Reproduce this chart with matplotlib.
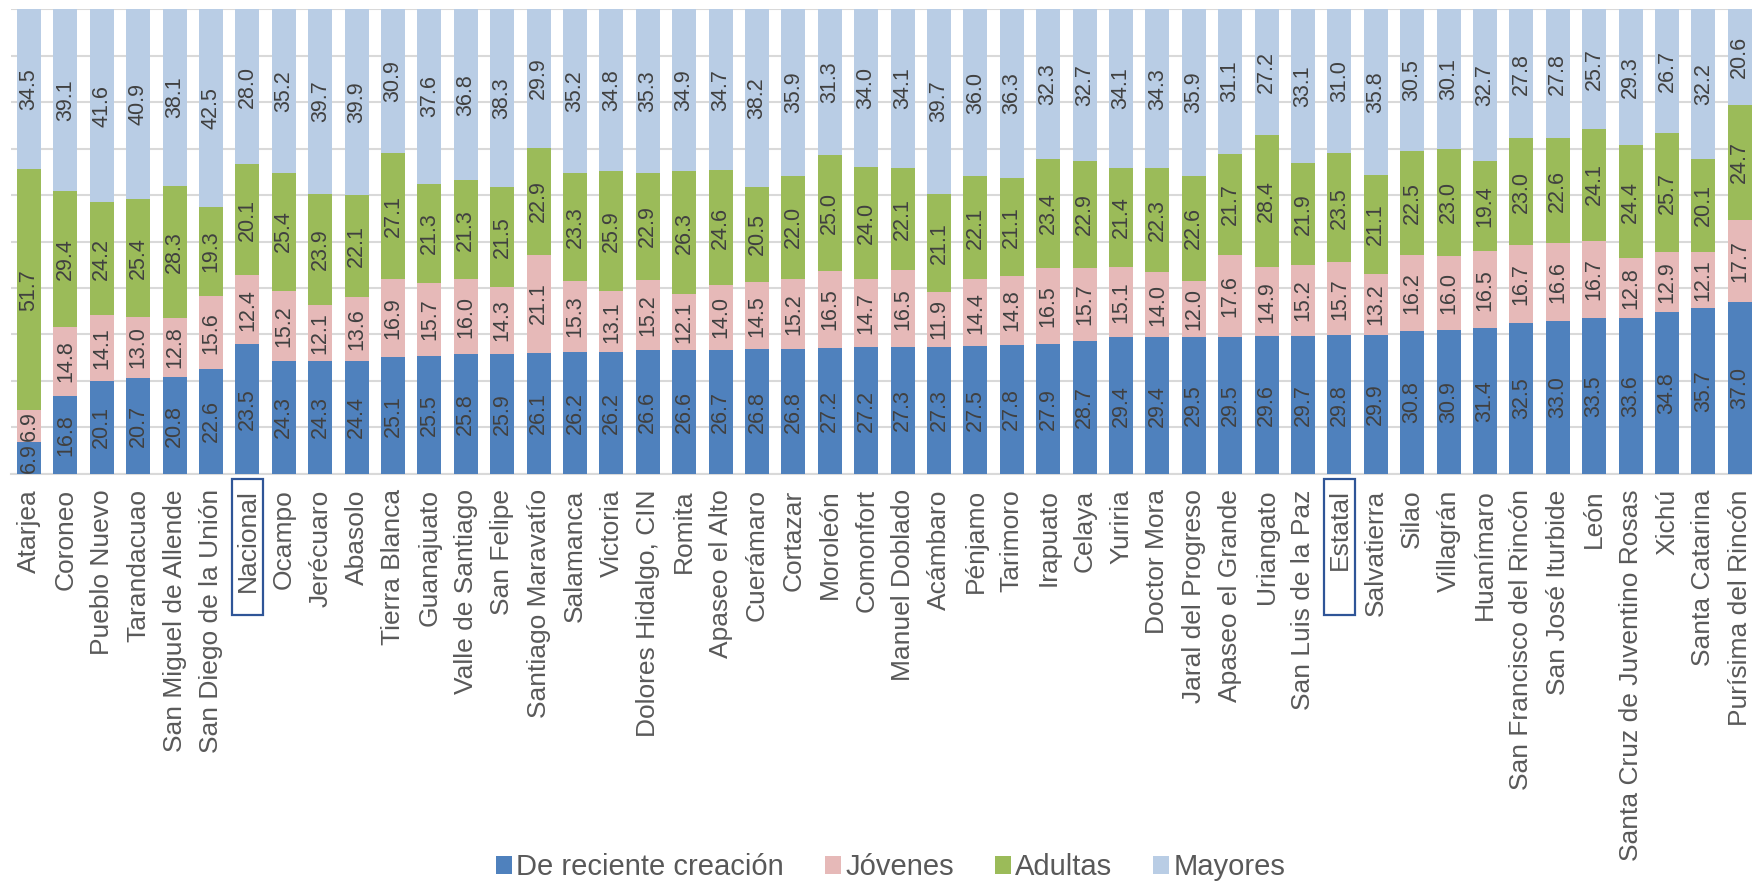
import matplotlib
matplotlib.use("Agg")
import matplotlib.pyplot as plt
import matplotlib.transforms as mtransforms
from matplotlib.patches import Rectangle
import numpy as np

plt.rcParams['font.family'] = ['Liberation Sans', 'DejaVu Sans']

# Datos
municipios = ["Atarjea", "Coroneo", "Pueblo Nuevo", "Tarandacuao", "San Miguel de Allende",
              "San Diego de la Unión", "Nacional", "Ocampo", "Jerécuaro", "Abasolo",
              "Tierra Blanca", "Guanajuato", "Valle de Santiago", "San Felipe",
              "Santiago Maravatío", "Salamanca", "Victoria", "Dolores Hidalgo, CIN", "Romita",
              "Apaseo el Alto", "Cuerámaro", "Cortazar", "Moroleón", "Comonfort",
              "Manuel Doblado", "Acámbaro", "Pénjamo", "Tarimoro", "Irapuato", "Celaya",
              "Yuriria", "Doctor Mora", "Jaral del Progreso", "Apaseo el Grande", "Uriangato",
              "San Luis de la Paz", "Estatal", "Salvatierra", "Silao", "Villagrán", "Huanímaro",
              "San Francisco del Rincón", "San José Iturbide", "León",
              "Santa Cruz de Juventino Rosas", "Xichú", "Santa Catarina", "Purísima del Rincón"]

reciente = [6.9, 16.8, 20.1, 20.7, 20.8, 22.6, 23.5, 24.3, 24.3, 24.4, 25.1, 25.5, 25.8, 25.9,
            26.1, 26.2, 26.2, 26.6, 26.6, 26.7, 26.8, 26.8, 27.2, 27.2, 27.3, 27.3, 27.5, 27.8,
            27.9, 28.7, 29.4, 29.4, 29.5, 29.5, 29.6, 29.7, 29.8, 29.9, 30.8, 30.9, 31.4, 32.5,
            33.0, 33.5, 33.6, 34.8, 35.7, 37.0]
jovenes = [6.9, 14.8, 14.1, 13.0, 12.8, 15.6, 12.4, 15.2, 12.1, 13.6, 16.9, 15.7, 16.0, 14.3,
           21.1, 15.3, 13.1, 15.2, 12.1, 14.0, 14.5, 15.2, 16.5, 14.7, 16.5, 11.9, 14.4, 14.8,
           16.5, 15.7, 15.1, 14.0, 12.0, 17.6, 14.9, 15.2, 15.7, 13.2, 16.2, 16.0, 16.5, 16.7,
           16.6, 16.7, 12.8, 12.9, 12.1, 17.7]
adultas = [51.7, 29.4, 24.2, 25.4, 28.3, 19.3, 20.1, 25.4, 23.9, 22.1, 27.1, 21.3, 21.3, 21.5,
           22.9, 23.3, 25.9, 22.9, 26.3, 24.6, 20.5, 22.0, 25.0, 24.0, 22.1, 21.1, 22.1, 21.1,
           23.4, 22.9, 21.4, 22.3, 22.6, 21.7, 28.4, 21.9, 23.5, 21.1, 22.5, 23.0, 19.4, 23.0,
           22.6, 24.1, 24.4, 25.7, 20.1, 24.7]
mayores = [34.5, 39.1, 41.6, 40.9, 38.1, 42.5, 28.0, 35.2, 39.7, 39.9, 30.9, 37.6, 36.8, 38.3,
           29.9, 35.2, 34.8, 35.3, 34.9, 34.7, 38.2, 35.9, 31.3, 34.0, 34.1, 39.7, 36.0, 36.3,
           32.3, 32.7, 34.1, 34.3, 35.9, 31.1, 27.2, 33.1, 31.0, 35.8, 30.5, 30.1, 32.7, 27.8,
           27.8, 25.7, 29.3, 26.7, 32.2, 20.6]

series = ["De reciente creación", "Jóvenes", "Adultas", "Mayores"]
colores = ["#4F81BD", "#E6B9B8", "#9BBB59", "#B9CDE5"]
resaltados = ["Nacional", "Estatal"]

valores = np.array([reciente, jovenes, adultas, mayores])
# Grafica 100% apilada: normalizar cada columna
porcentajes = valores / valores.sum(axis=0) * 100

fig = plt.figure(figsize=(17.52, 8.83), dpi=100)
ax = fig.add_axes([0.0062, 0.4632, 0.9972, 0.5266])

x = np.arange(len(municipios))
base = np.zeros(len(municipios))
for nombre, color, alto, etiquetas in zip(series, colores, porcentajes, valores):
    ax.bar(x, alto, bottom=base, width=0.66, color=color, label=nombre, zorder=3)
    for xi, b, h, v in zip(x, base, alto, etiquetas):
        ax.text(xi, b + h / 2, f"{v:.1f}", rotation=90, ha="center", va="center",
                fontsize=15.5, color="#404040", zorder=4)
    base = base + alto

ax.set_xlim(-0.5, len(municipios) - 0.5)
ax.set_ylim(0, 100)
ax.set_yticks(np.arange(0, 101, 10))
ax.yaxis.grid(True, color="#D9D9D9", linewidth=1.5, zorder=0)
ax.tick_params(axis="y", left=False, labelleft=False)
ax.set_xticks(x)
ax.set_xticklabels(municipios, rotation=90, fontsize=19, color="#595959")
ax.tick_params(axis="x", length=0, pad=11)
for lado in ["top", "left", "right"]:
    ax.spines[lado].set_visible(False)
ax.spines["bottom"].set_color("#D9D9D9")
ax.spines["bottom"].set_linewidth(1.5)

# Recuadros en Nacional y Estatal
trans = mtransforms.blended_transform_factory(ax.transData, fig.transFigure)
for nombre in resaltados:
    i = municipios.index(nombre)
    rect = Rectangle((i - 0.43, 0.3035), 0.86, 0.154, transform=trans, fill=False,
                     edgecolor="#2F5597", linewidth=1.6, clip_on=False)
    fig.patches.append(rect)

fig.legend(loc="center", bbox_to_anchor=(0.5083, 0.018), ncol=4, frameon=False,
           fontsize=21, handlelength=0.55, handleheight=0.55, handletextpad=0.15,
           columnspacing=1.4, labelcolor="#595959")

fig.savefig("out.png", dpi=100)
